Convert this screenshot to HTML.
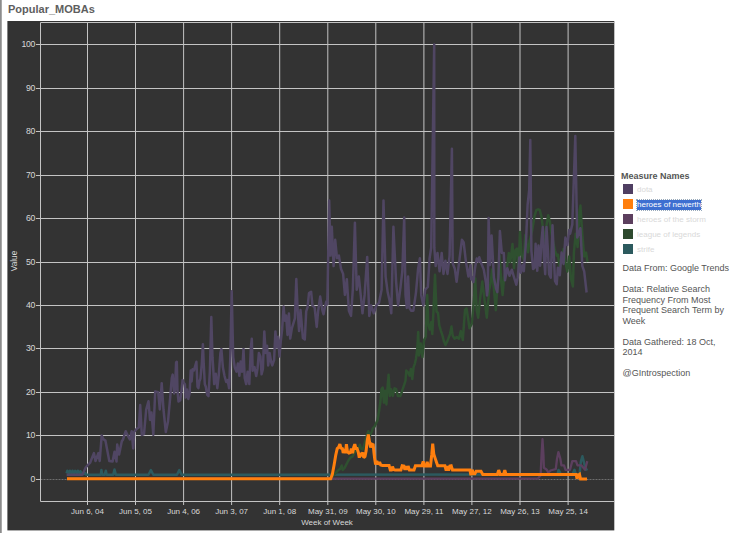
<!DOCTYPE html>
<html><head><meta charset="utf-8"><style>
html,body{margin:0;padding:0;background:#fff;width:736px;height:533px;overflow:hidden;font-family:"Liberation Sans",sans-serif;}
.bar{position:absolute;left:0;top:0;width:1px;height:533px;background:#8c8c8c;border-right:1px solid #a8a8a8;}
.title{position:absolute;left:8px;top:3.3px;font-size:11px;font-weight:bold;color:#5e5e5e;letter-spacing:0px;}
svg{position:absolute;left:0;top:0;}
.ax{font-size:8px;fill:#d8d8d8;font-family:"Liberation Sans",sans-serif;}
.ay{font-size:8.7px;letter-spacing:-0.25px;fill:#d8d8d8;font-family:"Liberation Sans",sans-serif;}
.lg{position:absolute;left:621px;top:170px;font-size:9px;color:#555;}
.lh{font-weight:bold;font-size:9px;color:#555;position:absolute;left:621px;top:171px;white-space:nowrap;}
.it{position:absolute;left:623px;width:10px;height:10px;}
.il{position:absolute;left:637px;font-size:8px;color:#d9d9d9;white-space:nowrap;line-height:10px;}
.sel{background:#3d6fd1;color:#fff;outline:1px dotted #9ab;}
.txt{position:absolute;left:622.5px;top:263px;font-size:9px;line-height:10.55px;color:#555;white-space:nowrap;}
</style></head><body>
<div class="bar"></div>
<div class="title">Popular_MOBAs</div>
<svg width="736" height="533" viewBox="0 0 736 533" shape-rendering="auto">
<rect x="7.4" y="21" width="606.9" height="509.4" fill="#333333"/>
<line x1="40.5" y1="479.5" x2="614" y2="479.5" stroke="#6e6e6e" stroke-width="1" stroke-dasharray="2,1"/>
<line x1="36" y1="479.5" x2="40.5" y2="479.5" stroke="#c4c4c4" stroke-width="1"/>
<text x="35.2" y="482.1" text-anchor="end" class="ay">0</text>
<line x1="40.5" y1="435.5" x2="614" y2="435.5" stroke="#c4c4c4" stroke-width="1"/>
<line x1="36" y1="435.5" x2="40.5" y2="435.5" stroke="#c4c4c4" stroke-width="1"/>
<text x="35.2" y="438.1" text-anchor="end" class="ay">10</text>
<line x1="40.5" y1="392.5" x2="614" y2="392.5" stroke="#c4c4c4" stroke-width="1"/>
<line x1="36" y1="392.5" x2="40.5" y2="392.5" stroke="#c4c4c4" stroke-width="1"/>
<text x="35.2" y="395.1" text-anchor="end" class="ay">20</text>
<line x1="40.5" y1="348.5" x2="614" y2="348.5" stroke="#c4c4c4" stroke-width="1"/>
<line x1="36" y1="348.5" x2="40.5" y2="348.5" stroke="#c4c4c4" stroke-width="1"/>
<text x="35.2" y="351.1" text-anchor="end" class="ay">30</text>
<line x1="40.5" y1="305.5" x2="614" y2="305.5" stroke="#c4c4c4" stroke-width="1"/>
<line x1="36" y1="305.5" x2="40.5" y2="305.5" stroke="#c4c4c4" stroke-width="1"/>
<text x="35.2" y="308.1" text-anchor="end" class="ay">40</text>
<line x1="40.5" y1="262.5" x2="614" y2="262.5" stroke="#c4c4c4" stroke-width="1"/>
<line x1="36" y1="262.5" x2="40.5" y2="262.5" stroke="#c4c4c4" stroke-width="1"/>
<text x="35.2" y="265.1" text-anchor="end" class="ay">50</text>
<line x1="40.5" y1="218.5" x2="614" y2="218.5" stroke="#c4c4c4" stroke-width="1"/>
<line x1="36" y1="218.5" x2="40.5" y2="218.5" stroke="#c4c4c4" stroke-width="1"/>
<text x="35.2" y="221.1" text-anchor="end" class="ay">60</text>
<line x1="40.5" y1="175.5" x2="614" y2="175.5" stroke="#c4c4c4" stroke-width="1"/>
<line x1="36" y1="175.5" x2="40.5" y2="175.5" stroke="#c4c4c4" stroke-width="1"/>
<text x="35.2" y="178.1" text-anchor="end" class="ay">70</text>
<line x1="40.5" y1="131.5" x2="614" y2="131.5" stroke="#c4c4c4" stroke-width="1"/>
<line x1="36" y1="131.5" x2="40.5" y2="131.5" stroke="#c4c4c4" stroke-width="1"/>
<text x="35.2" y="134.1" text-anchor="end" class="ay">80</text>
<line x1="40.5" y1="88.5" x2="614" y2="88.5" stroke="#c4c4c4" stroke-width="1"/>
<line x1="36" y1="88.5" x2="40.5" y2="88.5" stroke="#c4c4c4" stroke-width="1"/>
<text x="35.2" y="91.1" text-anchor="end" class="ay">90</text>
<line x1="40.5" y1="44.5" x2="614" y2="44.5" stroke="#c4c4c4" stroke-width="1"/>
<line x1="36" y1="44.5" x2="40.5" y2="44.5" stroke="#c4c4c4" stroke-width="1"/>
<text x="35.2" y="47.1" text-anchor="end" class="ay">100</text>
<line x1="87.5" y1="22.5" x2="87.5" y2="505" stroke="#c4c4c4" stroke-width="1"/>
<text x="87.5" y="514" text-anchor="middle" class="ax">Jun 6, 04</text>
<line x1="135.5" y1="22.5" x2="135.5" y2="505" stroke="#c4c4c4" stroke-width="1"/>
<text x="135.5" y="514" text-anchor="middle" class="ax">Jun 5, 05</text>
<line x1="183.6" y1="22.5" x2="183.6" y2="505" stroke="#c4c4c4" stroke-width="1"/>
<text x="183.6" y="514" text-anchor="middle" class="ax">Jun 4, 06</text>
<line x1="231.6" y1="22.5" x2="231.6" y2="505" stroke="#c4c4c4" stroke-width="1"/>
<text x="231.6" y="514" text-anchor="middle" class="ax">Jun 3, 07</text>
<line x1="279.7" y1="22.5" x2="279.7" y2="505" stroke="#c4c4c4" stroke-width="1"/>
<text x="279.7" y="514" text-anchor="middle" class="ax">Jun 1, 08</text>
<line x1="327.8" y1="22.5" x2="327.8" y2="505" stroke="#c4c4c4" stroke-width="1"/>
<text x="327.8" y="514" text-anchor="middle" class="ax">May 31, 09</text>
<line x1="375.8" y1="22.5" x2="375.8" y2="505" stroke="#c4c4c4" stroke-width="1"/>
<text x="375.8" y="514" text-anchor="middle" class="ax">May 30, 10</text>
<line x1="423.9" y1="22.5" x2="423.9" y2="505" stroke="#c4c4c4" stroke-width="1"/>
<text x="423.9" y="514" text-anchor="middle" class="ax">May 29, 11</text>
<line x1="471.9" y1="22.5" x2="471.9" y2="505" stroke="#c4c4c4" stroke-width="1"/>
<text x="471.9" y="514" text-anchor="middle" class="ax">May 27, 12</text>
<line x1="520.0" y1="22.5" x2="520.0" y2="505" stroke="#c4c4c4" stroke-width="1"/>
<text x="520.0" y="514" text-anchor="middle" class="ax">May 26, 13</text>
<line x1="568.1" y1="22.5" x2="568.1" y2="505" stroke="#c4c4c4" stroke-width="1"/>
<text x="568.1" y="514" text-anchor="middle" class="ax">May 25, 14</text>
<path d="M40.5 501.5 V22.5 H614" fill="none" stroke="#c4c4c4" stroke-width="1"/>
<line x1="40.5" y1="501.5" x2="614" y2="501.5" stroke="#c4c4c4" stroke-width="1"/>
<text x="327" y="525" text-anchor="middle" class="ax">Week of Week</text>
<text transform="translate(17.0,261) rotate(-90) scale(0.9,1)" text-anchor="middle" class="ax" style="font-size:9.2px">Value</text>
<path d="M66.6 473.4 L67.3 470.8 L69.0 473.4 L69.9 470.8 L71.6 473.4 L72.5 470.8 L74.2 473.4 L75.2 470.8 L76.9 473.4 L77.8 470.8 L79.5 473.4 L80.4 471.2 L82.1 473.4 L83.7 474.1 L85.0 472.8 L86.3 474.7 L100.8 474.7 L101.4 470.1 L102.3 474.7 L104.7 474.7 L105.8 470.8 L106.7 474.7 L113.2 474.7 L114.5 469.5 L115.9 474.7 L148.5 474.7 L150.9 470.0 L153.3 474.7 L177.0 474.7 L179.3 470.0 L181.6 474.7 L555.0 474.6 L557.5 474.6 L558.5 470.0 L560.0 472.5 L561.0 474.6 L572.5 474.6 L574.5 469.8 L576.0 474.6 L579.5 474.6 L580.9 461.3 L582.4 456.3 L585.0 466.8 L587.0 470.5" fill="none" stroke="#2c5a5e" stroke-width="2.5" stroke-linejoin="round"/>
<path d="M331.8 477.9 L334.0 474.5 L336.3 472.3 L338.5 470.0 L340.2 468.9 L341.7 465.5 L342.8 470.0 L344.7 467.8 L346.4 464.4 L348.1 461.0 L350.3 457.6 L352.6 456.5 L354.3 453.1 L355.9 450.9 L357.6 449.8 L359.9 444.7 L361.0 448.6 L362.7 449.2 L363.8 446.4 L365.5 439.6 L368.3 431.2 L370.0 435.1 L371.7 431.8 L372.8 428.4 L374.5 426.7 L377.6 420.0 L379.3 409.4 L380.5 401.0 L381.5 389.2 L382.7 387.5 L383.9 402.7 L385.2 390.8 L386.4 404.4 L387.4 389.2 L388.6 374.8 L389.9 395.9 L391.1 389.2 L392.8 395.9 L394.5 388.3 L396.2 389.2 L397.9 395.9 L400.4 395.9 L402.1 390.8 L403.8 385.8 L405.5 380.7 L406.3 370.6 L408.0 372.3 L409.7 375.6 L410.9 368.9 L412.3 379.0 L413.6 367.2 L414.8 363.8 L416.0 358.7 L417.3 348.6 L418.2 332.0 L419.0 355.4 L420.7 343.5 L422.4 357.0 L424.1 340.1 L425.8 336.8 L427.2 295.0 L428.3 323.6 L429.8 329.6 L431.3 322.1 L432.3 334.1 L433.5 310.0 L435.0 274.8 L436.5 311.5 L438.0 313.0 L439.2 325.1 L441.0 331.1 L442.5 335.6 L444.0 341.6 L445.5 345.0 L447.8 340.1 L450.0 334.1 L451.5 326.6 L452.7 335.6 L454.5 338.6 L456.8 337.1 L459.0 338.6 L460.8 331.1 L462.8 340.1 L465.0 310.0 L466.5 308.5 L468.0 317.7 L469.5 328.2 L471.8 323.7 L474.0 299.6 L475.2 278.6 L476.7 310.2 L478.2 317.7 L480.0 299.6 L482.3 281.6 L484.5 299.6 L486.8 317.7 L489.1 290.6 L490.6 283.1 L492.1 269.5 L493.9 289.1 L495.8 310.2 L497.3 287.6 L499.6 256.0 L501.1 280.1 L502.6 295.1 L504.1 277.1 L505.0 272.7 L507.3 265.2 L508.8 253.1 L510.3 262.1 L512.5 244.1 L514.0 268.2 L515.5 250.1 L517.0 248.6 L518.5 269.7 L520.0 232.1 L521.5 254.6 L523.8 259.1 L525.3 235.1 L527.6 250.1 L528.0 252.3 L529.7 240.5 L532.2 230.4 L534.7 215.2 L536.4 210.1 L538.1 209.3 L539.8 210.1 L541.5 216.9 L543.2 230.4 L544.9 242.2 L546.5 225.3 L548.2 215.2 L549.9 221.9 L551.6 233.7 L553.3 242.2 L555.0 250.6 L556.7 255.6 L557.9 254.5 L559.8 267.7 L561.6 256.4 L563.5 248.9 L565.4 262.0 L567.3 271.4 L569.2 256.4 L571.0 279.0 L572.9 286.5 L573.9 252.6 L575.7 233.8 L577.6 247.0 L579.5 211.3 L580.4 205.6 L582.3 233.8 L584.2 256.4 L586.1 252.6 L587.5 262.0" fill="none" stroke="#2f5030" stroke-width="2.5" stroke-linejoin="round"/>
<path d="M67.0 478.7 L537.7 478.7 L540.6 475.3 L541.6 453.8 L542.5 439.2 L543.4 453.8 L543.9 467.8 L546.8 469.8 L548.3 472.8 L550.5 470.5 L555.8 469.0 L557.0 459.0 L558.4 452.1 L560.3 458.5 L561.4 465.3 L564.0 465.3 L565.5 469.8 L570.0 469.8 L572.3 461.1 L576.0 461.1 L577.5 465.3 L581.3 465.3 L585.0 469.8 L587.3 461.1" fill="none" stroke="#5c3f5e" stroke-width="2.3" stroke-linejoin="round"/>
<path d="M66.6 474.7 L82.4 474.7 L85.7 467.5 L90.3 462.3 L93.9 453.1 L95.5 461.0 L98.4 453.1 L99.7 461.0 L101.7 435.4 L103.4 439.3 L105.4 440.6 L109.3 461.0 L112.6 461.6 L114.5 451.8 L116.5 461.6 L117.2 444.5 L119.1 454.4 L121.8 441.3 L123.0 439.5 L125.7 431.2 L128.2 436.5 L129.8 439.5 L131.7 431.2 L133.2 448.5 L134.2 432.0 L136.5 429.0 L138.8 427.5 L140.2 405.0 L141.8 435.0 L144.0 434.2 L146.2 409.5 L148.5 401.2 L150.0 420.0 L151.5 412.5 L153.3 435.0 L155.2 391.5 L158.2 392.2 L159.8 409.5 L161.7 383.2 L163.5 409.5 L165.8 432.0 L168.0 421.5 L170.2 397.5 L171.0 386.8 L171.8 378.0 L172.7 374.6 L174.1 393.5 L175.0 389.5 L176.1 362.4 L176.8 361.8 L177.5 390.8 L178.5 401.6 L180.2 400.3 L181.5 390.8 L182.6 380.0 L183.5 382.7 L184.9 384.1 L185.6 397.6 L186.9 389.5 L188.3 398.9 L189.6 393.5 L190.7 370.5 L191.6 381.4 L192.6 369.2 L193.9 370.5 L195.0 366.5 L196.4 361.8 L197.5 386.8 L198.4 388.1 L199.4 381.4 L200.4 378.6 L201.8 363.8 L202.9 344.2 L203.8 365.1 L204.8 384.1 L205.8 386.8 L207.2 394.9 L208.5 396.2 L209.9 370.5 L211.3 317.0 L212.5 357.2 L214.2 384.1 L215.8 373.8 L217.3 388.2 L218.7 375.8 L220.4 353.1 L221.4 349.0 L222.9 367.6 L224.5 375.8 L226.2 382.0 L227.6 380.0 L229.1 388.2 L230.3 357.2 L231.7 291.2 L233.2 357.2 L234.8 367.6 L236.5 371.7 L237.9 363.4 L239.4 375.8 L240.6 361.4 L242.1 371.7 L243.5 349.0 L244.7 377.9 L246.2 384.1 L247.6 371.7 L249.3 384.1 L250.9 346.9 L251.8 338.7 L252.7 370.7 L254.5 367.1 L256.2 376.1 L257.5 368.9 L258.9 352.9 L260.4 356.4 L261.6 374.3 L262.9 368.9 L264.3 331.4 L265.7 352.9 L267.0 345.7 L268.2 365.4 L269.6 352.9 L271.1 361.8 L272.3 365.4 L274.1 360.0 L275.4 331.4 L276.8 347.5 L278.2 336.8 L279.5 356.4 L280.7 342.1 L282.1 329.6 L283.6 306.4 L284.8 320.7 L286.1 315.4 L287.5 335.0 L288.9 313.6 L290.2 338.6 L292.0 327.9 L294.9 318.4 L296.3 279.1 L297.7 311.4 L299.1 331.1 L300.5 310.0 L301.5 321.2 L302.9 338.1 L304.8 339.5 L306.2 311.4 L307.6 307.2 L309.0 293.1 L311.1 291.7 L312.5 305.8 L314.6 307.2 L316.7 326.9 L318.1 311.4 L320.2 296.6 L322.3 310.0 L323.5 314.2 L324.9 307.2 L326.3 301.6 L327.3 304.4 L329.2 200.5 L330.5 255.6 L331.8 226.7 L333.6 266.1 L335.2 239.8 L337.0 258.2 L338.9 255.6 L341.0 268.7 L343.1 273.9 L344.9 294.9 L346.8 279.2 L348.9 310.7 L351.0 315.9 L352.8 289.7 L354.9 222.8 L356.7 289.7 L358.8 276.6 L360.7 294.9 L362.5 313.3 L364.6 294.9 L367.2 256.9 L369.3 315.9 L371.1 305.4 L373.8 313.3 L376.4 305.4 L379.0 302.8 L381.6 289.7 L383.5 200.5 L385.6 276.6 L387.7 292.3 L389.5 300.2 L391.3 313.3 L393.4 226.7 L396.1 281.8 L398.1 305.4 L400.2 289.7 L402.3 271.3 L404.2 217.5 L405.5 294.9 L406.8 308.0 L408.1 276.6 L409.4 308.0 L411.3 310.7 L413.4 310.7 L416.0 292.3 L418.1 268.7 L419.9 258.2 L421.2 294.9 L423.3 305.4 L425.2 289.7 L427.8 287.0 L429.6 258.2 L431.2 247.7 L434.2 44.6 L434.3 247.7 L435.7 266.1 L437.5 253.0 L439.6 271.3 L441.7 253.0 L443.5 273.9 L445.4 260.8 L447.5 273.9 L449.6 255.6 L451.9 148.8 L452.7 263.4 L454.8 268.7 L456.6 281.8 L459.3 260.8 L461.9 239.8 L463.7 242.5 L465.8 260.8 L468.4 276.6 L470.5 265.0 L471.1 279.2 L471.7 277.0 L473.4 282.0 L475.1 267.5 L476.8 258.5 L478.5 261.8 L479.3 257.3 L481.5 264.0 L483.8 269.6 L486.0 283.0 L487.0 295.5 L487.8 288.8 L488.6 218.0 L490.0 265.0 L491.6 235.5 L493.9 277.5 L496.1 288.8 L497.3 292.1 L498.4 277.5 L499.9 231.0 L501.8 252.9 L503.8 252.9 L505.0 280.2 L507.3 268.2 L509.5 275.7 L511.8 269.7 L514.0 277.2 L516.3 284.7 L517.8 277.2 L519.3 257.6 L520.8 272.7 L522.7 265.2 L523.8 271.2 L526.1 239.6 L527.6 205.0 L529.2 190.0 L530.3 140.0 L531.4 250.6 L533.1 269.1 L534.7 267.5 L535.6 243.8 L537.3 270.8 L538.5 245.5 L540.1 265.8 L541.5 240.5 L542.8 227.0 L544.0 257.3 L545.2 274.2 L546.5 227.0 L547.9 250.6 L549.1 274.2 L550.8 277.6 L552.5 225.3 L553.6 250.6 L555.0 281.0 L556.7 284.3 L557.9 267.7 L559.8 275.2 L561.6 252.6 L563.5 263.9 L565.4 237.6 L567.3 245.1 L569.2 230.1 L570.1 233.8 L572.3 224.4 L575.3 136.0 L577.2 237.6 L578.6 233.8 L580.4 228.2 L582.3 265.8 L584.2 271.4 L586.6 292.5" fill="none" stroke="#504663" stroke-width="2.5" stroke-linejoin="round"/>
<path d="M67.0 478.7 L330.6 478.8 L332.3 474.5 L334.0 465.5 L335.7 455.4 L337.2 448.6 L338.5 447.5 L339.9 444.1 L341.0 448.1 L342.4 448.6 L343.2 453.1 L344.4 449.2 L345.5 453.1 L346.4 444.1 L347.5 452.0 L348.9 453.1 L350.3 452.6 L351.4 448.6 L352.6 453.1 L353.7 447.5 L354.8 444.1 L355.9 448.6 L357.1 448.6 L358.2 452.0 L359.3 457.6 L360.8 453.1 L361.6 454.3 L362.7 452.6 L363.8 457.6 L365.0 456.5 L366.1 450.9 L367.2 440.8 L368.3 434.6 L369.5 441.9 L370.6 447.5 L371.7 444.1 L373.2 444.7 L374.0 453.1 L374.7 458.8 L375.6 464.4 L376.8 461.0 L377.9 464.4 L379.6 462.1 L380.7 465.0 L382.4 465.5 L389.1 465.5 L390.3 470.0 L391.4 470.0 L392.5 466.6 L393.6 469.5 L395.0 469.9 L400.9 469.9 L402.2 465.7 L403.9 466.0 L404.9 469.9 L406.2 466.0 L407.1 469.9 L408.1 466.0 L409.4 469.9 L414.0 469.9 L415.4 465.7 L421.9 465.7 L423.2 461.4 L424.2 466.0 L426.3 466.0 L427.2 461.8 L428.1 466.0 L430.5 466.0 L431.8 454.2 L432.7 443.6 L433.8 454.2 L435.1 458.1 L436.4 462.0 L437.7 465.7 L444.9 465.7 L446.2 470.6 L447.3 466.0 L448.6 470.6 L449.9 466.0 L451.2 465.7 L452.5 469.9 L469.9 469.9 L470.9 475.2 L471.2 473.8 L472.2 470.1 L472.5 470.6 L473.0 473.8 L474.9 473.8 L476.1 471.3 L481.0 471.3 L482.8 474.4 L497.4 474.4 L498.7 470.1 L500.2 474.4 L503.5 474.4 L504.8 470.1 L506.0 474.4 L576.2 474.4 L577.0 478.6 L578.3 475.3 L579.5 474.4 L580.5 478.9 L587.0 478.9" fill="none" stroke="#ff7f0e" stroke-width="3" stroke-linejoin="miter" stroke-miterlimit="2"/>
</svg>
<div class="lh">Measure Names</div>
<div class="it" style="top:184px;background:#4f3f62"></div><div class="il" style="top:184.5px">dota</div>
<div class="it" style="top:199px;background:#ff7f0e"></div><div class="il sel" style="top:199.5px">heroes of newerth</div>
<div class="it" style="top:214px;background:#5c3f5e"></div><div class="il" style="top:214.5px">heroes of the storm</div>
<div class="it" style="top:229px;background:#2e4a2e"></div><div class="il" style="top:229.5px">league of legends</div>
<div class="it" style="top:244px;background:#2c5a5e"></div><div class="il" style="top:244.5px">strife</div>
<div class="txt">Data From: Google Trends<br><br>Data: Relative Search<br>Frequency From Most<br>Frequent Search Term by<br>Week<br><br>Data Gathered: 18 Oct,<br>2014<br><br>@GIntrospection</div>
</body></html>
